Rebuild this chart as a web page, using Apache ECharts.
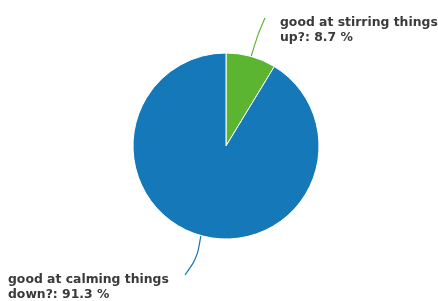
<!DOCTYPE html>
<html>
<head>
<meta charset="utf-8">
<script src="https://cdn.jsdelivr.net/npm/echarts@6/dist/echarts.min.js"></script>
<style>
  html, body { margin: 0; padding: 0; background: #fff; }
  #chart { width: 438px; height: 301px; }
</style>
</head>
<body>
<div id="chart"></div>
<script>
const answers = ['good at stirring things\nup?', 'good at calming things\ndown?'];
const shares = [8.7, 91.3];
const colors = ['#5cb531', '#1578b8'];

// where each label block sits (top-left corner) and how its guide line bends
const labelPos = [
  { x: 280, y: 15, bend: [258, 34], end: [265, 18] },
  { x: 8, y: 272, bend: [197, 258], end: [185, 275] }
];

const chart = echarts.init(document.getElementById('chart'), null, { renderer: 'canvas' });

const option = {
  animation: false,
  series: [
    {
      type: 'pie',
      center: [226, 146],
      radius: [0, 93],
      startAngle: 90,
      clockwise: true,
      avoidLabelOverlap: false,
      percentPrecision: 1,
      itemStyle: { borderColor: '#ffffff', borderWidth: 1 },
      label: {
        show: true,
        position: 'outside',
        formatter: '{b}: {d} %',
        fontFamily: 'DejaVu Sans',
        fontWeight: 'bold',
        fontSize: 12.4,
        lineHeight: 15.5,
        color: '#3a3a3a'
      },
      labelLine: { show: true, smooth: 0.3, length: 20, length2: 5, lineStyle: { width: 1.2 } },
      labelLayout: function (params) {
        const p = labelPos[params.dataIndex];
        const start = params.labelLinePoints ? params.labelLinePoints[0] : p.bend;
        return {
          x: p.x,
          y: p.y,
          align: 'left',
          verticalAlign: 'top',
          labelLinePoints: [start, p.bend, p.end]
        };
      },
      data: answers.map((name, i) => ({
        name: name,
        value: shares[i],
        itemStyle: { color: colors[i] }
      }))
    }
  ]
};

chart.setOption(option);
</script>
</body>
</html>
